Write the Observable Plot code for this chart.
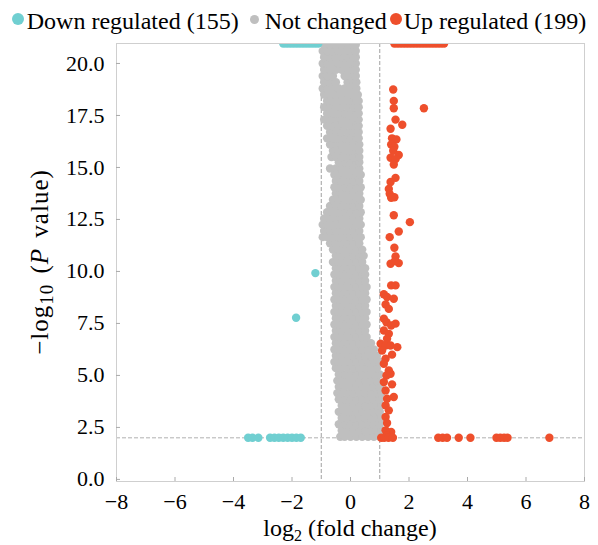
<!DOCTYPE html>
<html><head><meta charset="utf-8">
<script src="https://cdn.jsdelivr.net/npm/d3@7"></script>
<script src="https://cdn.jsdelivr.net/npm/@observablehq/plot@0.6"></script>
<style>
body{margin:0;background:#fff;font-family:"Liberation Serif","Times New Roman",serif;}
#legend{height:36px;box-sizing:border-box;padding-top:9px;display:flex;justify-content:center;font-size:24px;line-height:1;white-space:nowrap;color:#000;}
#legend .item{display:inline-block;}
#legend .dot{display:inline-block;border-radius:50%;position:relative;}
#chart svg{display:block;}
</style></head><body>
<div id="legend"></div>
<div id="chart"></div>
<script>
const categories = ["Down regulated (155)", "Not changed", "Up regulated (199)"];
const colors = ["#70cfd1", "#bfbfbf", "#ee4f2c"];
const xTicks = [-8, -6, -4, -2, 0, 2, 4, 6, 8];
const yTicks = [0, 2.5, 5, 7.5, 10, 12.5, 15, 17.5, 20];
const yCap = 20.96;

// Down regulated
const downX = [-2.3,-2.2,-2.1,-2.0,-1.9,-1.8,-1.7,-1.6,-1.5,-1.4,-1.3,-1.2,-1.1,
  -1.20,-1.86,
  -3.5,-3.35,-3.15,-2.75,-2.6,-2.45,-2.3,-2.15,-2.0,-1.85,-1.7];
const downY = [yCap,yCap,yCap,yCap,yCap,yCap,yCap,yCap,yCap,yCap,yCap,yCap,yCap,
  9.92,7.77,
  2,2,2,2,2,2,2,2,2,2,2];

// Up regulated
const upX = [1.5,1.6,1.7,1.8,1.9,2.0,2.1,2.2,2.3,2.4,2.5,2.6,2.7,2.8,2.9,3.0,3.1,3.2,
  1.46,1.48,1.48,2.51,1.54,1.77,1.37,1.42,1.57,1.39,1.50,1.46,1.65,1.37,1.54,1.48,1.54,1.37,1.31,1.34,1.50,1.39,1.48,2.03,1.65,1.34,
  1.50,1.54,1.37,1.65,1.52,1.39,1.54,1.14,1.25,1.48,1.20,1.31,1.14,1.23,1.39,1.54,1.14,1.31,1.25,1.03,1.20,1.37,1.60,1.08,1.42,1.20,1.14,1.31,1.23,1.37,1.14,1.42,1.20,1.48,1.25,1.20,1.31,1.20,1.25,1.20,1.39,1.25,
  1.05,1.15,1.3,1.45,3.0,3.15,3.3,3.7,4.1,4.99,5.12,5.25,5.37,6.8];
const upY = [yCap,yCap,yCap,yCap,yCap,yCap,yCap,yCap,yCap,yCap,yCap,yCap,yCap,yCap,yCap,yCap,yCap,yCap,
  18.75,18.2,17.85,17.85,17.3,17.05,16.86,16.4,16.35,16.1,16.0,15.8,15.6,15.47,15.4,15.14,14.5,14.3,13.97,13.73,13.57,13.54,12.7,12.37,11.92,11.65,
  11.14,10.72,10.37,10.4,10.5,9.33,9.33,8.9,8.77,8.69,8.41,8.2,7.73,7.56,7.4,7.49,7.16,7.0,6.76,6.52,6.44,6.44,6.36,6.2,6.0,5.8,5.56,5.24,5.0,5.08,4.68,4.57,4.28,3.96,3.88,3.56,3.32,3.0,2.71,2.36,2.28,2.12,
  2,2,2,2,2,2,2,2,2,2,2,2,2,2];

// Not changed: rows of [y, x values]
const grayRows = [
 [2.05,[-0.35,-0.2,0,0.2,0.4,0.6,0.8,1.0]],
 [2.35,[-0.3,-0.1,0.1,0.3,0.5,0.7,0.9,1.05]],
 [2.65,[-0.4,-0.2,0,0.2,0.4,0.6,0.8,1.0]],
 [2.95,[-0.3,-0.1,0.1,0.3,0.5,0.7,0.9,1.05]],
 [3.25,[-0.4,-0.2,0,0.2,0.4,0.6,0.8,1.0]],
 [3.55,[-0.3,-0.1,0.1,0.3,0.5,0.7,0.9,1.05]],
 [3.85,[-0.4,-0.2,0,0.2,0.4,0.6,0.8,1.0]],
 [4.15,[-0.45,-0.3,-0.1,0.1,0.3,0.5,0.7,0.9,1.05]],
 [4.45,[-0.4,-0.2,0,0.2,0.4,0.6,0.8,1.0]],
 [4.75,[-0.45,-0.3,-0.1,0.1,0.3,0.5,0.7,0.9]],
 [5.05,[-0.4,-0.2,0,0.2,0.4,0.6,0.8,1.0]],
 [5.35,[-0.5,-0.3,-0.1,0.1,0.3,0.5,0.7,0.9]],
 [5.65,[-0.55,-0.4,-0.2,0,0.2,0.4,0.6,0.8,1.0]],
 [5.95,[-0.5,-0.3,-0.1,0.1,0.3,0.5,0.7,0.9]],
 [6.25,[-0.55,-0.4,-0.2,0,0.2,0.4,0.6,0.8]],
 [6.55,[-0.5,-0.3,-0.1,0.1,0.3,0.5,0.7]],
 [6.85,[-0.55,-0.4,-0.2,0,0.2,0.4,0.55]],
 [7.15,[-0.5,-0.3,-0.1,0.1,0.3,0.5]],
 [7.45,[-0.55,-0.4,-0.2,0,0.2,0.4,0.55]],
 [7.75,[-0.5,-0.3,-0.1,0.1,0.3,0.5]],
 [8.05,[-0.55,-0.4,-0.2,0,0.2,0.4,0.55]],
 [8.35,[-0.5,-0.3,-0.1,0.1,0.3,0.5]],
 [8.65,[-0.55,-0.4,-0.2,0,0.2,0.4,0.55]],
 [8.95,[-0.5,-0.3,-0.1,0.1,0.3,0.5]],
 [9.25,[-0.55,-0.4,-0.2,0,0.2,0.4,0.55]],
 [9.55,[-0.5,-0.3,-0.1,0.1,0.3,0.5]],
 [9.85,[-0.55,-0.4,-0.2,0,0.2,0.4,0.5]],
 [10.15,[-0.5,-0.3,-0.1,0.1,0.3,0.5]],
 [10.45,[-0.6,-0.4,-0.2,0,0.2,0.4]],
 [10.75,[-0.5,-0.3,-0.1,0.1,0.3,0.45]],
 [11.05,[-0.6,-0.4,-0.2,0,0.2,0.4]],
 [11.35,[-0.7,-0.5,-0.3,-0.1,0.1,0.3]],
 [11.65,[-0.95,-0.8,-0.6,-0.4,-0.2,0,0.2,0.35]],
 [11.95,[-0.9,-0.7,-0.5,-0.3,-0.1,0.1,0.3]],
 [12.25,[-0.95,-0.8,-0.6,-0.4,-0.2,0,0.2,0.35]],
 [12.55,[-0.9,-0.7,-0.5,-0.3,-0.1,0.1,0.3]],
 [12.85,[-0.8,-0.6,-0.4,-0.2,0,0.2,0.35]],
 [13.15,[-0.7,-0.5,-0.3,-0.1,0.1,0.3]],
 [13.45,[-0.6,-0.4,-0.2,0,0.2,0.35]],
 [13.75,[-0.5,-0.3,-0.1,0.1,0.3]],
 [14.05,[-0.55,-0.4,-0.2,0,0.2,0.35]],
 [14.35,[-0.5,-0.3,-0.1,0.1,0.3]],
 [14.65,[-0.55,-0.4,-0.2,0,0.2,0.35]],
 [14.95,[-0.7,-0.5,-0.3,-0.1,0.1,0.3]],
 [15.25,[-0.4,-0.2,0,0.2,0.3]],
 [15.5,[-0.65,-0.5,-0.3,-0.1,0.1,0.3]],
 [15.8,[-0.6,-0.4,-0.2,0,0.2,0.3]],
 [16.1,[-0.7,-0.5,-0.3,-0.1,0.1,0.3]],
 [16.4,[-0.8,-0.6,-0.4,-0.2,0,0.2,0.28]],
 [16.7,[-0.7,-0.5,-0.3,-0.1,0.1,0.28]],
 [17.0,[-0.8,-0.6,-0.4,-0.2,0,0.2,0.28]],
 [17.3,[-0.9,-0.7,-0.5,-0.3,-0.1,0.1,0.28]],
 [17.6,[-0.8,-0.6,-0.4,-0.2,0,0.2,0.28]],
 [17.9,[-0.9,-0.7,-0.5,-0.3,-0.1,0.1,0.28]],
 [18.2,[-0.8,-0.6,-0.4,-0.2,0,0.2,0.28]],
 [18.5,[-0.9,-0.7,-0.5,-0.3,-0.1,0.1,0.25]],
 [18.8,[-0.95,-0.8,-0.6,-0.4,-0.2,0,0.2]],
 [19.1,[-0.9,-0.7,-0.5,-0.1,0.1,0.2]],
 [19.4,[-0.95,-0.8,-0.6,-0.2,0,0.18]],
 [19.7,[-0.9,-0.7,-0.5,-0.3,-0.1,0.1,0.18]],
 [20.0,[-0.95,-0.8,-0.6,-0.4,-0.2,0,0.18]],
 [20.3,[-0.9,-0.7,-0.5,-0.3,-0.1,0.1,0.18]],
 [20.6,[-0.95,-0.8,-0.6,-0.4,-0.2,0,0.18]],
 [20.9,[-0.9,-0.7,-0.5,-0.3,-0.1,0.1,0.18]]
];

const down = downX.map((x, i) => ({x, y: downY[i]}));
const up = upX.map((x, i) => ({x, y: upY[i]}));
const gray = grayRows.flatMap(([y, xs]) => xs.map(x => ({x, y})));

// Legend
const legend = document.getElementById("legend");
const dotSizes = [12, 9, 12];
const dotGaps = [3, 6, 2];
const itemGaps = [0, 11, 3];
const dotTops = [-4, -5.5, -4];
categories.forEach((c, i) => {
  const item = document.createElement("span");
  item.className = "item";
  item.style.marginLeft = itemGaps[i] + "px";
  const dot = document.createElement("span");
  dot.className = "dot";
  dot.style.width = dot.style.height = dotSizes[i] + "px";
  dot.style.background = colors[i];
  dot.style.marginRight = dotGaps[i] + "px";
  dot.style.top = dotTops[i] + "px";
  const t = document.createElement("span");
  t.textContent = c;
  item.appendChild(dot);
  item.appendChild(t);
  legend.appendChild(item);
});

const W = 598, H = 509;
const serif = "'Liberation Serif', 'Times New Roman', serif";
const plot = Plot.plot({
  width: W, height: H,
  marginLeft: 116, marginRight: 14, marginTop: 7, marginBottom: 64,
  x: {domain: [-8, 8]},
  y: {domain: [-0.1, yCap]},
  style: {fontFamily: serif, fontSize: "22px", color: "#000", background: "#fff", overflow: "visible"},
  marks: [
    Plot.ruleY([2], {stroke: "#b0b0b0", strokeDasharray: "4,2"}),
    Plot.ruleX([-1, 1], {stroke: "#a0a0a0", strokeDasharray: "4,2"}),
    Plot.dot(gray, {x: "x", y: "y", r: 4.2, fill: colors[1], clip: true}),
    Plot.dot(down, {x: "x", y: "y", r: 4.2, fill: colors[0], clip: true}),
    Plot.dot(up, {x: "x", y: "y", r: 4.2, fill: colors[2], clip: true}),
    Plot.frame({stroke: "#cfcfcf"}),
    Plot.axisX(xTicks, {tickSize: 0, tickPadding: 12, label: null, fontSize: 22}),
    Plot.axisX(xTicks, {tickSize: 4, dy: -4, tickFormat: () => "", label: null, stroke: "#aaa"}),
    Plot.axisY(yTicks, {tickSize: 0, tickPadding: 12, tickFormat: d3.format(".1f"), label: null, fontSize: 22}),
    Plot.axisY(yTicks, {tickSize: 4, dx: 4, tickFormat: () => "", label: null, stroke: "#aaa"})
  ]
});
document.getElementById("chart").appendChild(plot);

const svg = d3.select(plot);
// x axis title
const lx = svg.append("text")
  .attr("x", (116 + (W - 14)) / 2).attr("y", 500)
  .attr("text-anchor", "middle")
  .attr("font-family", serif)
  .attr("font-size", 24).attr("fill", "#000");
lx.append("tspan").text("log");
lx.append("tspan").attr("font-size", 16).attr("dy", 5).text("2");
lx.append("tspan").attr("dy", -5).text(" (fold change)");
// y axis title
const yc = (7 + (H - 64)) / 2;
const ly = svg.append("text")
  .attr("transform", `translate(48,${yc}) rotate(-90)`)
  .attr("text-anchor", "middle")
  .attr("font-family", serif)
  .attr("letter-spacing", 1)
  .attr("font-size", 25).attr("fill", "#000");
ly.append("tspan").text("\u2212log");
ly.append("tspan").attr("font-size", 19).attr("dy", 5).text("10");
ly.append("tspan").attr("dy", -5).attr("dx", 3).text(" (");
ly.append("tspan").attr("font-style", "italic").text("P");
ly.append("tspan").attr("dx", 3).text(" value)");
</script>
</body></html>
